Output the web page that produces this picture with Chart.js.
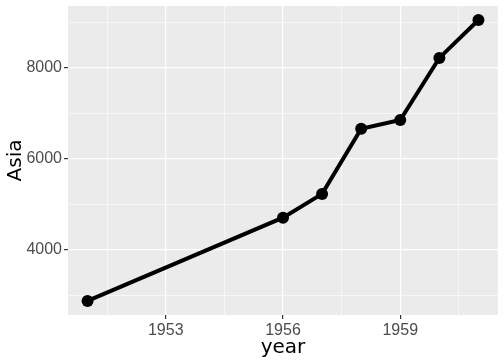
<!DOCTYPE html>
<html><head><meta charset="utf-8">
<script src="https://cdn.jsdelivr.net/npm/chart.js@4"></script>
<style>html,body{margin:0;padding:0;background:#fff}#wrap{width:504px;height:360px}</style>
</head><body><div id="wrap"><canvas id="c" width="504" height="360"></canvas></div>
<script>
const years = [1951, 1956, 1957, 1958, 1959, 1960, 1961];
const asia = [2876, 4708, 5230, 6662, 6856, 8220, 9053];
const xMajor = [1953, 1956, 1959];
const xMinor = [1951.5, 1954.5, 1957.5, 1960.5];
const yMajor = [4000, 6000, 8000];
const yMinor = [3000, 5000, 7000, 9000];
const FONT = "'DejaVu Sans', sans-serif";
const TICKFONT = "'Liberation Sans', Arial, sans-serif";

const panelBg = {
  id: 'panelBg',
  beforeDraw(chart) {
    const a = chart.chartArea, ctx = chart.ctx;
    ctx.save(); ctx.fillStyle = '#EBEBEB';
    ctx.fillRect(a.left, a.top, a.right - a.left, a.bottom - a.top);
    ctx.restore();
  }
};
function mkTicks(major, minor) {
  return scale => {
    const t = [];
    minor.forEach(v => t.push({value: v}));
    major.forEach(v => t.push({value: v}));
    t.sort((a, b) => a.value - b.value);
    scale.ticks = t;
  };
}
const isMaj = (ctx, major) => major.includes(ctx.tick && ctx.tick.value);

new Chart(document.getElementById('c'), {
  type: 'line',
  data: {
    datasets: [{
      data: years.map((y, i) => ({x: y, y: asia[i]})),
      borderColor: '#000', backgroundColor: '#000',
      borderWidth: 4, pointRadius: 6, pointHoverRadius: 6,
      pointBackgroundColor: '#000', pointBorderWidth: 0, tension: 0
    }]
  },
  options: {
    responsive: false, animation: false,
    layout: {padding: {left: 0, right: 6, top: 5, bottom: 0}},
    plugins: {legend: {display: false}, tooltip: {enabled: false}},
    scales: {
      x: {
        type: 'linear', min: 1950.5, max: 1961.5,
        afterBuildTicks: mkTicks(xMajor, xMinor),
        afterFit: s => { s.height = 45; s.paddingLeft = 0; s.paddingRight = 0; },
        border: {display: false},
        grid: {
          color: '#FFFFFF',
          lineWidth: c => isMaj(c, xMajor) ? 1.2 : 0.6,
          drawTicks: true, tickLength: 4,
          tickColor: c => isMaj(c, xMajor) ? '#333333' : 'rgba(0,0,0,0)',
          tickWidth: 1.2
        },
        ticks: {
          autoSkip: false, maxRotation: 0, padding: 2, color: '#4D4D4D',
          font: {family: TICKFONT, size: 16},
          callback: v => xMajor.includes(v) ? String(v) : ''
        },
        title: {display: true, text: 'year', color: '#000', font: {family: FONT, size: 20}, padding: {top: 0, bottom: 0}}
      },
      y: {
        type: 'linear', min: 2567, max: 9362,
        afterBuildTicks: mkTicks(yMajor, yMinor),
        afterFit: s => { s.width = 68; s.paddingTop = 0; s.paddingBottom = 0; },
        border: {display: false},
        grid: {
          color: '#FFFFFF',
          lineWidth: c => isMaj(c, yMajor) ? 1.2 : 0.6,
          drawTicks: true, tickLength: 4,
          tickColor: c => isMaj(c, yMajor) ? '#333333' : 'rgba(0,0,0,0)',
          tickWidth: 1.2
        },
        ticks: {
          autoSkip: false, padding: 2, color: '#4D4D4D',
          font: {family: TICKFONT, size: 16},
          callback: v => yMajor.includes(v) ? String(v) : ''
        },
        title: {display: true, text: 'Asia', color: '#000', font: {family: FONT, size: 20}, padding: {top: 4, bottom: 0}}
      }
    }
  },
  plugins: [panelBg]
});
</script></body></html>
